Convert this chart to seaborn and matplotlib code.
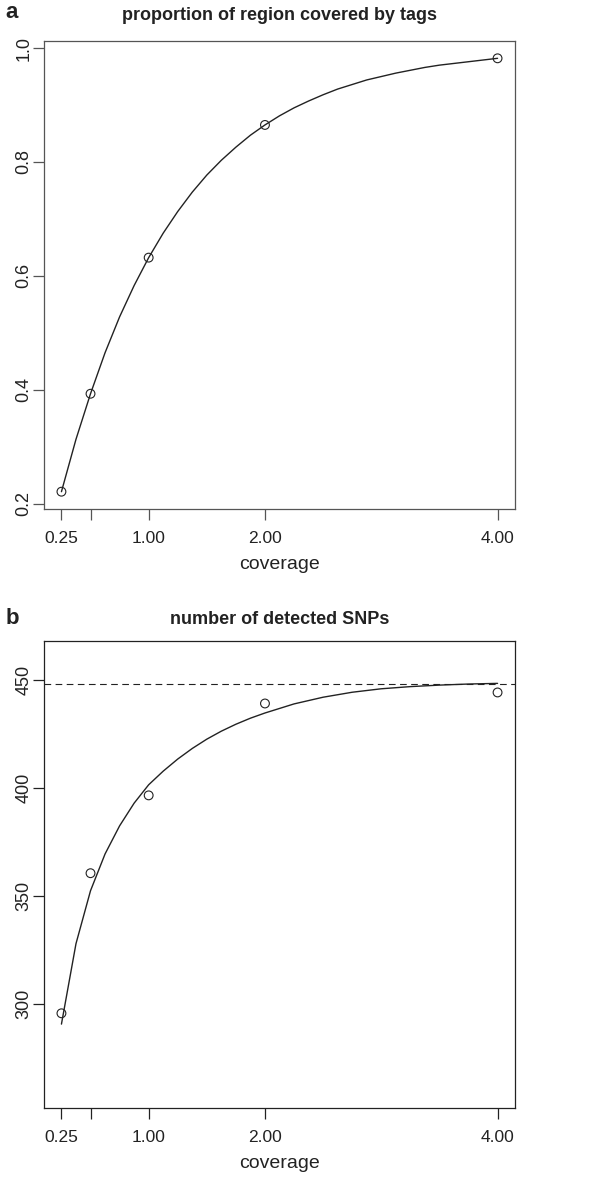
import matplotlib
matplotlib.use("Agg")
import matplotlib.pyplot as plt
import seaborn as sns
import pandas as pd

# ---- data ----
coverage = [0.25, 0.5, 1.0, 2.0, 4.0]
prop_covered = [0.221, 0.393, 0.632, 0.865, 0.982]
snps_detected = [295.8, 360.6, 396.6, 439.1, 444.2]
snp_total = 448

curve_x = [0.25, 0.375, 0.5, 0.625, 0.75, 0.875, 1.0, 1.125, 1.25, 1.375,
           1.5, 1.625, 1.75, 1.875, 2.0, 2.125, 2.25, 2.375, 2.5, 2.625,
           2.75, 2.875, 3.0, 3.125, 3.25, 3.375, 3.5, 3.625, 3.75, 3.875, 4.0]
curve_a_y = [0.221, 0.313, 0.393, 0.465, 0.528, 0.583, 0.632, 0.675, 0.713, 0.747,
             0.777, 0.803, 0.826, 0.847, 0.865, 0.881, 0.895, 0.907, 0.918, 0.928,
             0.936, 0.944, 0.950, 0.956, 0.961, 0.966, 0.970, 0.973, 0.976, 0.979, 0.982]

curve_b_x = [0.25, 0.375, 0.5, 0.625, 0.75, 0.875, 1.0, 1.125, 1.25, 1.375,
             1.5, 1.625, 1.75, 1.875, 2.0, 2.25, 2.5, 2.75, 3.0, 3.25,
             3.5, 3.75, 4.0]
curve_b_y = [290.8, 328.0, 352.5, 369.5, 382.5, 393.0, 401.5, 407.8, 413.4, 418.3,
             422.6, 426.3, 429.5, 432.3, 434.7, 438.9, 442.0, 444.3, 445.9, 446.9,
             447.6, 448.1, 448.4]

x_ticks = [0.25, 0.5, 1.0, 2.0, 4.0]
x_ticklabels = ["0.25", "", "1.00", "2.00", "4.00"]
a_yticks = [0.2, 0.4, 0.6, 0.8, 1.0]
b_yticks = [300, 350, 400, 450]

titles = ["proportion of region covered by tags", "number of detected SNPs"]
panel_letters = ["a", "b"]
x_label = "coverage"

# ---- style ----
sns.set_theme(style="white")
plt.rcParams["font.family"] = ["Liberation Sans", "DejaVu Sans"]

W, H = 597, 1177
fig = plt.figure(figsize=(W / 100, H / 100), dpi=100)

INK = "#222222"

def add_axes(top_px, bottom_px):
    left, right = 44, 515
    return fig.add_axes([left / W, 1 - bottom_px / H, (right - left) / W, (bottom_px - top_px) / H])

ax_a = add_axes(41, 509)
ax_b = add_axes(641, 1108)

# panel a
df_ca = pd.DataFrame({"x": curve_x, "y": curve_a_y})
df_pa = pd.DataFrame({"x": coverage, "y": prop_covered})
sns.lineplot(data=df_ca, x="x", y="y", ax=ax_a, color=INK, lw=1.0, sort=False)
sns.scatterplot(data=df_pa, x="x", y="y", ax=ax_a, facecolor="none",
                edgecolor=INK, linewidth=0.8, s=40, marker="o", zorder=3)
ax_a.set_ylim(0.1906, 1.0124)
ax_a.set_yticks(a_yticks)
ax_a.set_yticklabels([f"{v:.1f}" for v in a_yticks])

# panel b
df_cb = pd.DataFrame({"x": curve_b_x, "y": curve_b_y})
df_pb = pd.DataFrame({"x": coverage, "y": snps_detected})
sns.lineplot(data=df_cb, x="x", y="y", ax=ax_b, color=INK, lw=1.0, sort=False)
sns.scatterplot(data=df_pb, x="x", y="y", ax=ax_b, facecolor="none",
                edgecolor=INK, linewidth=0.8, s=40, marker="o", zorder=3)
ax_b.axhline(snp_total, color=INK, lw=0.8, dashes=(6, 4))
ax_b.set_ylim(252, 468)
ax_b.set_yticks(b_yticks)
ax_b.set_yticklabels([str(v) for v in b_yticks])

for ax, spine_col in ((ax_a, "#555555"), (ax_b, "#222222")):
    ax.set_xlim(0.1, 4.15)
    ax.set_xticks(x_ticks)
    ax.set_xticklabels(x_ticklabels)
    ax.set_xlabel(x_label, fontsize=14, color=INK, labelpad=7)
    ax.set_ylabel("")
    for s in ax.spines.values():
        s.set_visible(True)
        s.set_color(spine_col)
        s.set_linewidth(0.9)
    ax.tick_params(axis="both", which="both", direction="out", length=8,
                   width=0.9, color=spine_col, labelsize=12.5, labelcolor=INK,
                   bottom=True, left=True)
    ax.tick_params(axis="x", pad=8)
    ax.tick_params(axis="y", pad=0.5, labelsize=13)
    for lab in ax.get_yticklabels():
        lab.set_rotation(90)
        lab.set_va("center")
    ax.grid(False)

# titles and panel letters
cx = (44 + 515) / 2 / W
fig.text(cx, 1 - 16 / H, titles[0], ha="center", va="center", fontsize=13,
         fontweight="bold", color=INK)
fig.text(cx, 1 - 619 / H, titles[1], ha="center", va="center", fontsize=13,
         fontweight="bold", color=INK)
fig.text(12 / W, 1 - 12 / H, panel_letters[0], ha="center", va="center",
         fontsize=16, fontweight="bold", color=INK)
fig.text(12 / W, 1 - 618 / H, panel_letters[1], ha="center", va="center",
         fontsize=16, fontweight="bold", color=INK)

fig.savefig("out.png", dpi=100, facecolor="white")
